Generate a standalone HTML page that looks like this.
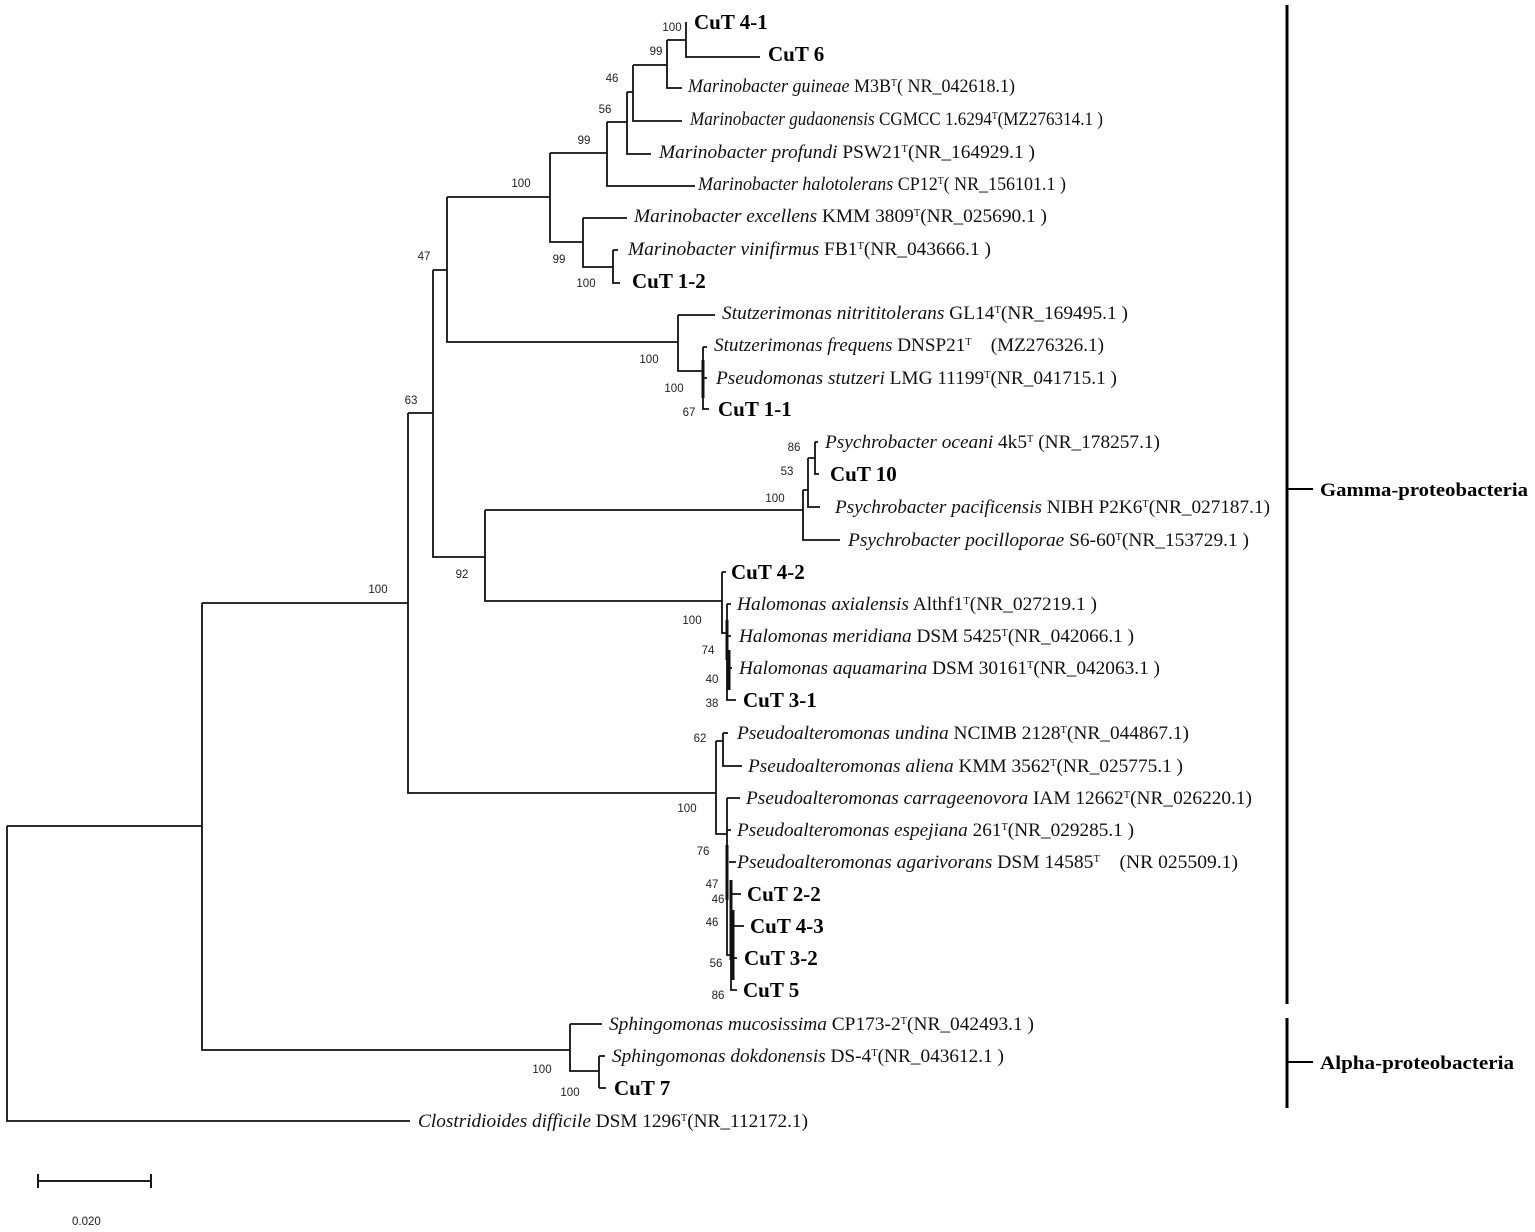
<!DOCTYPE html>
<html><head><meta charset="utf-8"><style>
html,body{margin:0;padding:0;background:#fff}
svg{display:block}
.t{font-family:"Liberation Serif",serif;font-size:18.5px;fill:#111}
.b{font-family:"Liberation Serif",serif;font-size:21px;font-weight:bold;fill:#000}
.n{font-family:"Liberation Sans",sans-serif;font-size:11.5px;fill:#222}
.g{font-family:"Liberation Serif",serif;font-size:19px;font-weight:bold;fill:#000}
</style></head><body>
<svg width="1535" height="1232" viewBox="0 0 1535 1232" xmlns="http://www.w3.org/2000/svg">
<g stroke="#111" stroke-width="1.8" fill="none">
<path d="M7 826V1121H410M7 826H202"/>
<path d="M202 603V1050H570M202 603H408"/>
<path d="M570 1024V1071H599M570 1024H602M599 1056V1088M599 1056H605M599 1088H606"/>
<path d="M408 413V793H716M408 413H433"/>
<path d="M433 270V557H485M433 270H447"/>
<path d="M447 197V342H678M447 197H550"/>
<path d="M550 153V242H583M550 153H607"/>
<path d="M607 122V186H695M607 122H627"/>
<path d="M627 92V154H651M627 92H633"/>
<path d="M633 65V121H682M633 65H667"/>
<path d="M667 40V88H682M667 40H686"/>
<path d="M686 22V57H760"/>
<path d="M583 218V267H613M583 218H627"/>
<path d="M613 250V283H620M613 250H618"/>
<path d="M678 315V371H703M678 315H715"/>
<path d="M703 347V409H709M703 347H707M703 378H707"/>
<path d="M485 510V601H722M485 510H803"/>
<path d="M803 490V540H840M803 490H808"/>
<path d="M808 458V507H820M808 458H815"/>
<path d="M815 442V474H819M815 442H818"/>
<path d="M722 572V633H727M722 572H726"/>
<path d="M727 604V700H736M727 604H731M727 636H731M729 668H732"/>
<path d="M716 741V834H727M716 741H723"/>
<path d="M723 733V766H742M723 733H728"/>
<path d="M727 798V955H731M727 798H740M727 830H731M729 862H736"/>
<path d="M731 894V990H737M731 894H741M733 926H744M733 958H737"/>
</g>
<g stroke="#111" stroke-width="3" fill="none">
<path d="M703 360V398M727 620V660M729 650V690M727 845V900M731 880V960M733 910V980"/>
</g>
<g stroke="#000" fill="none">
<path d="M1287 5V1004" stroke-width="3"/>
<path d="M1287 489H1313" stroke-width="2"/>
<path d="M1287 1018V1108" stroke-width="3"/>
<path d="M1287 1062H1313" stroke-width="2"/>
<path d="M38 1181H151M38 1174V1188M151 1174V1188" stroke-width="1.8"/>
</g>
<text class="g" x="1320" y="496" textLength="208" lengthAdjust="spacingAndGlyphs">Gamma-proteobacteria</text>
<text class="g" x="1320" y="1069" textLength="194" lengthAdjust="spacingAndGlyphs">Alpha-proteobacteria</text>
<text class="n" x="72" y="1225">0.020</text>

<text class="b" x="694" y="29">CuT 4-1</text>
<text class="b" x="768" y="61">CuT 6</text>
<text class="t" x="688" y="92" textLength="327" lengthAdjust="spacingAndGlyphs"><tspan font-style="italic">Marinobacter guineae</tspan> M3B<tspan font-size="10" dy="-6">T</tspan><tspan dy="6">( NR_042618.1)</tspan></text>
<text class="t" x="690" y="125" textLength="413" lengthAdjust="spacingAndGlyphs"><tspan font-style="italic">Marinobacter gudaonensis</tspan> CGMCC 1.6294<tspan font-size="10" dy="-6">T</tspan><tspan dy="6">(MZ276314.1 )</tspan></text>
<text class="t" x="659" y="158" textLength="376" lengthAdjust="spacingAndGlyphs"><tspan font-style="italic">Marinobacter profundi</tspan> PSW21<tspan font-size="10" dy="-6">T</tspan><tspan dy="6">(NR_164929.1 )</tspan></text>
<text class="t" x="698" y="190" textLength="368" lengthAdjust="spacingAndGlyphs"><tspan font-style="italic">Marinobacter halotolerans</tspan> CP12<tspan font-size="10" dy="-6">T</tspan><tspan dy="6">( NR_156101.1 )</tspan></text>
<text class="t" x="634" y="222" textLength="413" lengthAdjust="spacingAndGlyphs"><tspan font-style="italic">Marinobacter excellens</tspan> KMM 3809<tspan font-size="10" dy="-6">T</tspan><tspan dy="6">(NR_025690.1 )</tspan></text>
<text class="t" x="628" y="255" textLength="363" lengthAdjust="spacingAndGlyphs"><tspan font-style="italic">Marinobacter vinifirmus</tspan> FB1<tspan font-size="10" dy="-6">T</tspan><tspan dy="6">(NR_043666.1 )</tspan></text>
<text class="b" x="632" y="288">CuT 1-2</text>
<text class="t" x="722" y="319" textLength="406" lengthAdjust="spacingAndGlyphs"><tspan font-style="italic">Stutzerimonas nitrititolerans</tspan> GL14<tspan font-size="10" dy="-6">T</tspan><tspan dy="6">(NR_169495.1 )</tspan></text>
<text class="t" x="714" y="351" textLength="390" lengthAdjust="spacingAndGlyphs"><tspan font-style="italic">Stutzerimonas frequens</tspan> DNSP21<tspan font-size="10" dy="-6">T</tspan><tspan dy="6">　(MZ276326.1)</tspan></text>
<text class="t" x="716" y="384" textLength="401" lengthAdjust="spacingAndGlyphs"><tspan font-style="italic">Pseudomonas stutzeri</tspan> LMG 11199<tspan font-size="10" dy="-6">T</tspan><tspan dy="6">(NR_041715.1 )</tspan></text>
<text class="b" x="718" y="416">CuT 1-1</text>
<text class="t" x="825" y="448" textLength="335" lengthAdjust="spacingAndGlyphs"><tspan font-style="italic">Psychrobacter oceani</tspan> 4k5<tspan font-size="10" dy="-6">T</tspan><tspan dy="6"> (NR_178257.1)</tspan></text>
<text class="b" x="830" y="481">CuT 10</text>
<text class="t" x="835" y="513" textLength="435" lengthAdjust="spacingAndGlyphs"><tspan font-style="italic">Psychrobacter pacificensis</tspan> NIBH P2K6<tspan font-size="10" dy="-6">T</tspan><tspan dy="6">(NR_027187.1)</tspan></text>
<text class="t" x="848" y="546" textLength="401" lengthAdjust="spacingAndGlyphs"><tspan font-style="italic">Psychrobacter pocilloporae</tspan> S6-60<tspan font-size="10" dy="-6">T</tspan><tspan dy="6">(NR_153729.1 )</tspan></text>
<text class="b" x="731" y="579">CuT 4-2</text>
<text class="t" x="737" y="610" textLength="360" lengthAdjust="spacingAndGlyphs"><tspan font-style="italic">Halomonas axialensis</tspan> Althf1<tspan font-size="10" dy="-6">T</tspan><tspan dy="6">(NR_027219.1 )</tspan></text>
<text class="t" x="739" y="642" textLength="395" lengthAdjust="spacingAndGlyphs"><tspan font-style="italic">Halomonas meridiana</tspan> DSM 5425<tspan font-size="10" dy="-6">T</tspan><tspan dy="6">(NR_042066.1 )</tspan></text>
<text class="t" x="739" y="674" textLength="421" lengthAdjust="spacingAndGlyphs"><tspan font-style="italic">Halomonas aquamarina</tspan> DSM 30161<tspan font-size="10" dy="-6">T</tspan><tspan dy="6">(NR_042063.1 )</tspan></text>
<text class="b" x="743" y="707">CuT 3-1</text>
<text class="t" x="737" y="739" textLength="452" lengthAdjust="spacingAndGlyphs"><tspan font-style="italic">Pseudoalteromonas undina</tspan> NCIMB 2128<tspan font-size="10" dy="-6">T</tspan><tspan dy="6">(NR_044867.1)</tspan></text>
<text class="t" x="748" y="772" textLength="435" lengthAdjust="spacingAndGlyphs"><tspan font-style="italic">Pseudoalteromonas aliena</tspan> KMM 3562<tspan font-size="10" dy="-6">T</tspan><tspan dy="6">(NR_025775.1 )</tspan></text>
<text class="t" x="746" y="804" textLength="506" lengthAdjust="spacingAndGlyphs"><tspan font-style="italic">Pseudoalteromonas carrageenovora</tspan> IAM 12662<tspan font-size="10" dy="-6">T</tspan><tspan dy="6">(NR_026220.1)</tspan></text>
<text class="t" x="737" y="836" textLength="397" lengthAdjust="spacingAndGlyphs"><tspan font-style="italic">Pseudoalteromonas espejiana</tspan> 261<tspan font-size="10" dy="-6">T</tspan><tspan dy="6">(NR_029285.1 )</tspan></text>
<text class="t" x="737" y="868" textLength="501" lengthAdjust="spacingAndGlyphs"><tspan font-style="italic">Pseudoalteromonas agarivorans</tspan> DSM 14585<tspan font-size="10" dy="-6">T</tspan><tspan dy="6">　(NR 025509.1)</tspan></text>
<text class="b" x="747" y="901">CuT 2-2</text>
<text class="b" x="750" y="933">CuT 4-3</text>
<text class="b" x="744" y="965">CuT 3-2</text>
<text class="b" x="743" y="997">CuT 5</text>
<text class="t" x="609" y="1030" textLength="425" lengthAdjust="spacingAndGlyphs"><tspan font-style="italic">Sphingomonas mucosissima</tspan> CP173-2<tspan font-size="10" dy="-6">T</tspan><tspan dy="6">(NR_042493.1 )</tspan></text>
<text class="t" x="612" y="1062" textLength="392" lengthAdjust="spacingAndGlyphs"><tspan font-style="italic">Sphingomonas dokdonensis</tspan> DS-4<tspan font-size="10" dy="-6">T</tspan><tspan dy="6">(NR_043612.1 )</tspan></text>
<text class="b" x="614" y="1095">CuT 7</text>
<text class="t" x="418" y="1127" textLength="390" lengthAdjust="spacingAndGlyphs"><tspan font-style="italic">Clostridioides difficile</tspan> DSM 1296<tspan font-size="10" dy="-6">T</tspan><tspan dy="6">(NR_112172.1)</tspan></text>

<g class="n" text-anchor="middle">
<text x="672" y="31">100</text>
<text x="656" y="55">99</text>
<text x="612" y="82">46</text>
<text x="605" y="113">56</text>
<text x="584" y="144">99</text>
<text x="521" y="187">100</text>
<text x="559" y="263">99</text>
<text x="586" y="287">100</text>
<text x="424" y="260">47</text>
<text x="649" y="363">100</text>
<text x="674" y="392">100</text>
<text x="689" y="416">67</text>
<text x="411" y="404">63</text>
<text x="794" y="451">86</text>
<text x="787" y="475">53</text>
<text x="775" y="502">100</text>
<text x="462" y="578">92</text>
<text x="378" y="593">100</text>
<text x="692" y="624">100</text>
<text x="708" y="654">74</text>
<text x="712" y="683">40</text>
<text x="712" y="707">38</text>
<text x="700" y="742">62</text>
<text x="687" y="812">100</text>
<text x="703" y="855">76</text>
<text x="712" y="888">47</text>
<text x="718" y="903">46</text>
<text x="712" y="926">46</text>
<text x="716" y="967">56</text>
<text x="718" y="999">86</text>
<text x="542" y="1073">100</text>
<text x="570" y="1096">100</text>
</g>
</svg>
</body></html>
